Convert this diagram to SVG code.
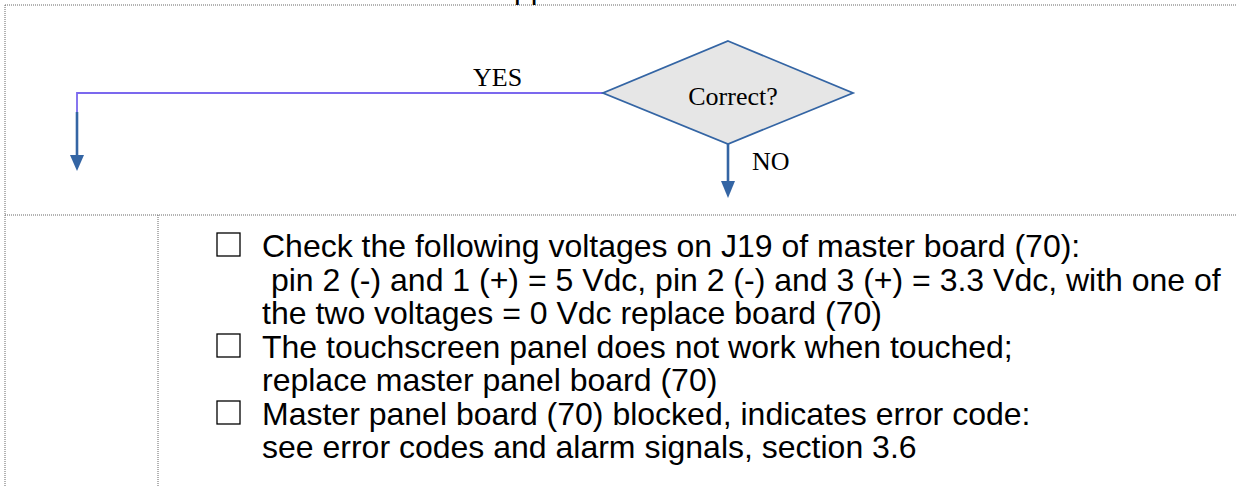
<svg xmlns="http://www.w3.org/2000/svg" width="1236" height="487" viewBox="0 0 1236 487">
<style>
.frame{stroke:#666;stroke-width:1;stroke-dasharray:1 1;fill:none}
.blue{stroke:#3465a4;stroke-width:2.6;fill:none}
.purple{stroke:#7b68ee;stroke-width:1.8;fill:none}
.head{fill:#3465a4}
.lbl{font-family:"Liberation Serif",serif;font-size:26px;fill:#000}
.body{font-family:"Liberation Sans",Arial,sans-serif;font-size:32px;fill:#000}
.box{fill:none;stroke:#000;stroke-width:1.3}
</style>
<g id="frame">
<path class="frame" d="M5,5 H1236 M5,5 V487 M5,215 H1236 M158,215 V487"/>
<text class="body" x="514" y="-1" style="font-size:30px">pp</text>
</g>
<g id="connectors">
<path class="purple" d="M604,93 H77 V113"/>
<path class="blue" d="M77,112 V158"/>
<path class="head" d="M70,155 L84,155 L77,171 Z"/>
<path class="blue" d="M728,144 V183"/>
<path class="head" d="M721,181 L735,181 L728,198 Z"/>
<text class="lbl" x="473" y="86">YES</text>
<text class="lbl" x="752" y="170">NO</text>
</g>
<g id="decision">
<polygon points="728,41 853,93 728,144 603,93" fill="#e6e6e6" stroke="#3465a4" stroke-width="1.8"/>
<text class="lbl" x="733" y="105" text-anchor="middle">Correct?</text>
</g>
<g id="checklist">
<rect class="box" x="217" y="233" width="23" height="23"/>
<rect class="box" x="217" y="334" width="23" height="23"/>
<rect class="box" x="217" y="401" width="23" height="23"/>
<text class="body" x="262" y="257">Check the following voltages on J19 of master board (70):</text>
<text class="body" x="262" y="291" xml:space="preserve"> pin 2 (-) and 1 (+) = 5 Vdc, pin 2 (-) and 3 (+) = 3.3 Vdc, with one of</text>
<text class="body" x="262" y="324">the two voltages = 0 Vdc replace board (70)</text>
<text class="body" x="262" y="358">The touchscreen panel does not work when touched;</text>
<text class="body" x="262" y="391">replace master panel board (70)</text>
<text class="body" x="262" y="425">Master panel board (70) blocked, indicates error code:</text>
<text class="body" x="262" y="458">see error codes and alarm signals, section 3.6</text>
</g>
</svg>
